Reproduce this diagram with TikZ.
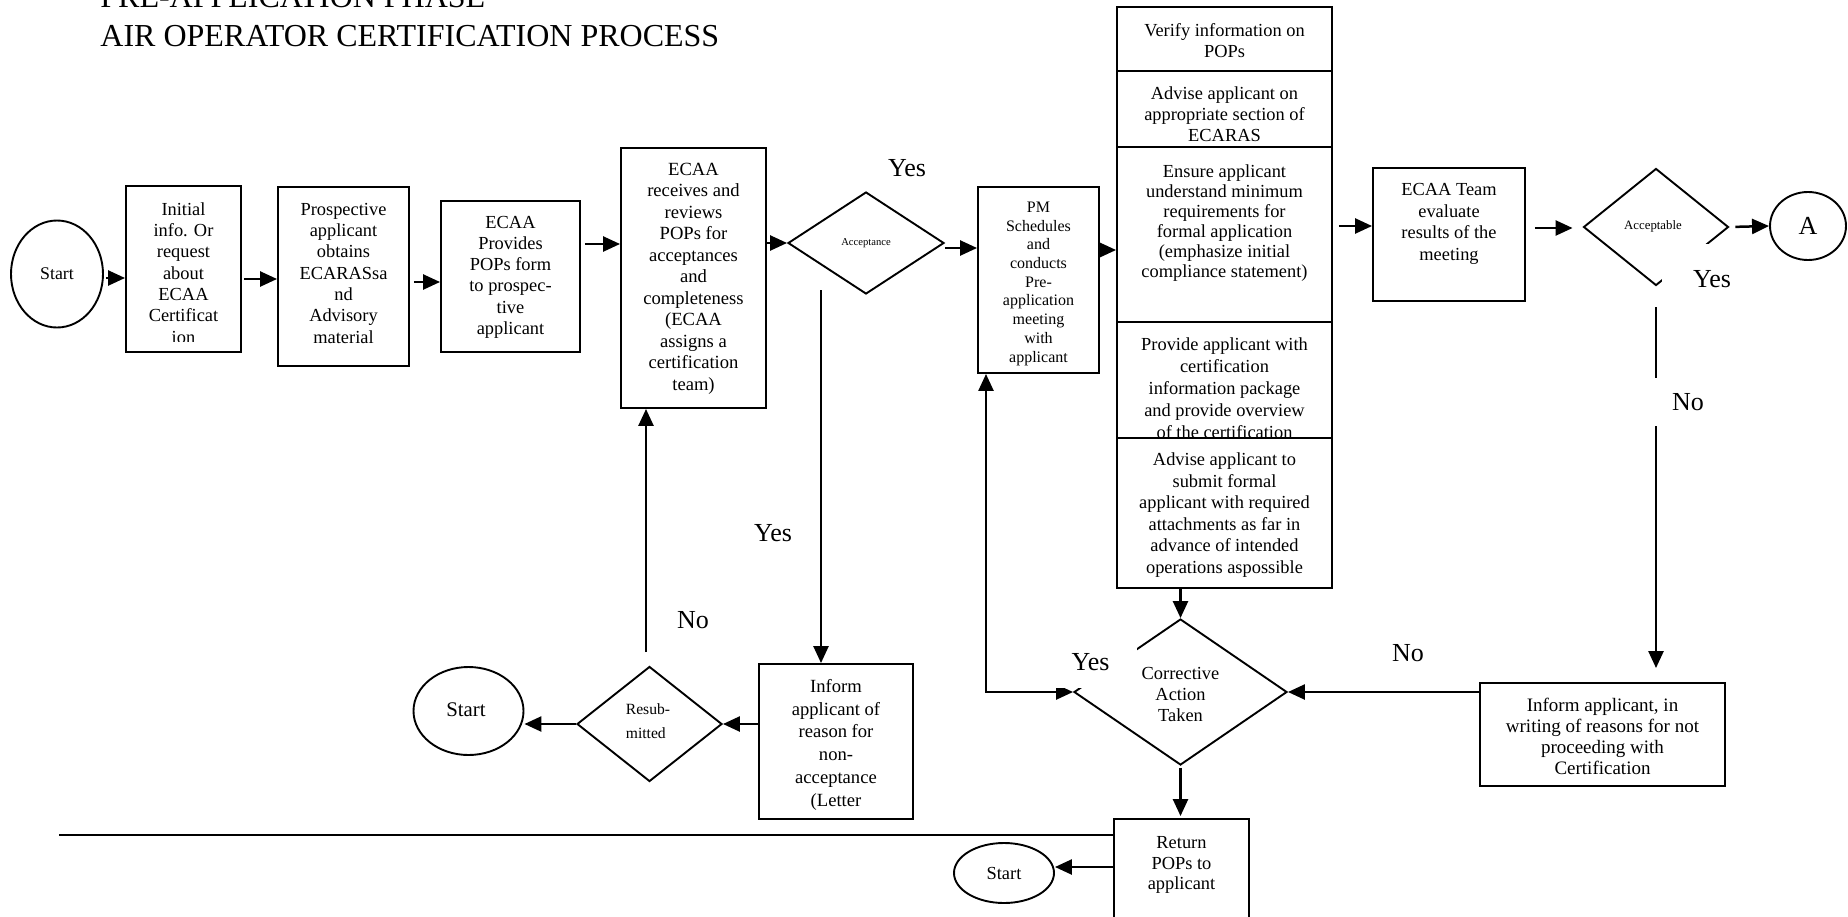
\documentclass[tikz,border=0pt]{standalone}
\usepackage{fontspec}
\setmainfont{Liberation Serif}
\usetikzlibrary{shapes.geometric,arrows.meta,calc}
\newcommand\myfs[2]{\fontsize{#1}{#2}\selectfont}
\begin{document}
\begin{tikzpicture}[x=0.5pt,y=-0.5pt,
  box/.style={draw, line width=0.95pt, inner sep=0pt},
  boxw/.style={box, fill=white},
  dia/.style={diamond, draw, line width=0.95pt, inner sep=0pt, aspect=1},
  ell/.style={ellipse, draw, line width=0.95pt, inner sep=0pt},
  txt/.style={align=center, inner sep=0pt, anchor=north},
  lbl/.style={inner sep=0pt, font=\myfs{13}{15}},
  lblw/.style={lbl, fill=white},
  arr/.style={line width=1.25pt, -{Triangle[length=8.5pt,width=7.5pt]}},
  dbl/.style={line width=1.25pt, {Triangle[length=8.5pt,width=7.5pt]}-{Triangle[length=8.5pt,width=7.5pt]}},
  ln/.style={line width=1.25pt}]
\fill[white] (0,0) rectangle (1848,916);
\useasboundingbox (0,0) rectangle (1848,916);

% title
\node[anchor=base west, inner sep=0pt, font=\myfs{16}{19}] (title1) at (100,7) {PRE-APPLICATION PHASE};
\node[anchor=base west, inner sep=0pt, font=\myfs{16}{19}] (title2) at (100,46) {AIR OPERATOR CERTIFICATION PROCESS};

% top row
\node[ell, minimum width=46pt, minimum height=53.5pt, font=\myfs{8.9}{10}] (start1) at (57,274) {Start};

\node[box, minimum width=57.5pt, minimum height=83pt] (b1) at (183.5,269) {};
\begin{scope}
  \clip (b1.north west) rectangle ($(b1.south east)+(0,-11)$);
  \node[txt, font=\myfs{9.2}{10.65}] (t1) at (183.5,200) {\strut Initial\\info. Or\\request\\about\\ECAA\\Certificat\\ion};
\end{scope}

\node[box, minimum width=65.5pt, minimum height=89.5pt] (b2) at (343.5,276.5) {};
\node[txt, font=\myfs{9.2}{10.65}] (t2) at (343.5,200) {\strut Prospective\\applicant\\obtains\\ECARASsa\\nd\\Advisory\\material};

\node[box, minimum width=69.5pt, minimum height=75.5pt] (b3) at (510.5,276.5) {};
\node[txt, font=\myfs{9.2}{10.6}] (t3) at (510.5,213) {\strut ECAA\\Provides\\POPs form\\to prospec-\\tive\\applicant};

\node[box, minimum width=72.5pt, minimum height=130pt] (b4) at (693.5,278) {};
\node[txt, font=\myfs{9.3}{10.75}] (t4) at (693.5,160) {\strut ECAA\\receives and\\reviews\\POPs for\\acceptances\\and\\completeness\\(ECAA\\assigns a\\certification\\team)};

\node[dia, minimum width=78pt, minimum height=51pt, font=\myfs{5.3}{6}] (acc) at (866,243) {Acceptance};

\node[box, minimum width=60.5pt, minimum height=93pt] (b5) at (1038.5,280) {};
\node[txt, font=\myfs{8}{9.35}] (t5) at (1038.5,199) {\strut PM\\Schedules\\and\\conducts\\Pre-\\application\\meeting\\with\\applicant};

% stack
\node[box, minimum width=107.5pt, minimum height=32pt] (s1) at (1224.5,39) {};
\node[txt, font=\myfs{9.2}{10.5}] (ts1) at (1224.5,21) {\strut Verify information on\\POPs};
\node[box, minimum width=107.5pt, minimum height=38pt] (s2) at (1224.5,109) {};
\node[txt, font=\myfs{9.2}{10.3}] (ts2) at (1224.5,85) {\strut Advise applicant on\\appropriate section of\\ECARAS};
\node[box, minimum width=107.5pt, minimum height=87.5pt] (s3) at (1224.5,234.5) {};
\node[txt, font=\myfs{9.2}{10}] (ts3) at (1224.5,163.5) {\strut Ensure applicant\\understand minimum\\requirements for\\formal application\\(emphasize initial\\compliance statement)};
\node[box, minimum width=107.5pt, minimum height=58pt] (s4) at (1224.5,380) {};
\node[txt, font=\myfs{9.2}{11}] (ts4) at (1224.5,334.3) {\strut Provide applicant with\\certification\\information package\\and provide overview\\of the certification};
\node[boxw, minimum width=107.5pt, minimum height=75pt] (s5) at (1224.5,513) {};
\node[txt, font=\myfs{9.2}{10.8}] (ts5) at (1224.5,450) {\strut Advise applicant to\\submit formal\\applicant with required\\attachments as far in\\advance of intended\\operations aspossible};

\node[box, minimum width=76pt, minimum height=66.5pt] (team) at (1449,234.5) {};
\node[txt, font=\myfs{9.2}{10.85}] (tteam) at (1449,180) {\strut ECAA Team\\evaluate\\results of the\\meeting};

\node[dia, minimum width=72.5pt, minimum height=58.5pt] (ok) at (1656,227) {};
\node[inner sep=0pt, font=\myfs{6.4}{7}] (okt) at (1653,226) {Acceptable};
\node[ell, minimum width=38pt, minimum height=34pt, font=\myfs{13}{15}] (A) at (1808,226) {A};

% lower part
\node[box, minimum width=122.5pt, minimum height=51.5pt] (inf2) at (1602.5,734.5) {};
\node[txt, font=\myfs{9.5}{10.5}] (tinf2) at (1602.5,696) {\strut Inform applicant, in\\writing of reasons for not\\proceeding with\\Certification};

\node[dia, minimum width=106.5pt, minimum height=73pt] (corr) at (1180.5,692) {};
\node[align=center, inner sep=0pt, font=\myfs{9.2}{10.5}] (ctext) at (1180.5,694.5) {Corrective\\Action\\Taken};

\node[box, minimum width=67.5pt, minimum height=60.5pt] (ret) at (1181.5,879.5) {};
\node[txt, font=\myfs{9.2}{10.35}] (tret) at (1181.5,833.5) {\strut Return\\POPs to\\applicant};
\node[ell, minimum width=50pt, minimum height=30pt, font=\myfs{9.2}{10}] (start3) at (1004,873) {Start};

\node[box, minimum width=77pt, minimum height=77.5pt] (inf1) at (836,741.5) {};
\node[txt, font=\myfs{9.3}{11.4}] (tinf1) at (836,676) {\strut Inform\\applicant of\\reason for\\non-\\acceptance\\(Letter};

\node[dia, minimum width=72.5pt, minimum height=57.5pt] (resub) at (649.5,724) {};
\node[align=left, inner sep=0pt, font=\myfs{7.8}{11.8}] (rtext) at (648,721) {Resub-\\mitted};

\node[ell, minimum width=55pt, minimum height=44pt] (start2) at (468.5,711) {};
\node[inner sep=0pt, font=\myfs{10.4}{12}] (start2t) at (466,710) {Start};

% connectors
\draw[arr, shorten <=1pt] (start1.east |- 0,278) -- (b1.west |- 0,278);
\draw[arr, shorten <=1pt] (b1.east |- 0,279) -- (b2.west |- 0,279);
\draw[arr, shorten <=2pt] (b2.east |- 0,282) -- (b3.west |- 0,282);
\draw[arr, shorten <=2pt] (b3.east |- 0,244) -- (b4.west |- 0,244);
\draw[arr] (b4.east |- acc.west) -- (acc.west);
\draw[arr] (acc.east |- 0,248) -- (b5.west |- 0,248);
\draw[arr] (b5.east |- 0,250) -- (s3.west |- 0,250);
\draw[arr, shorten <=3pt] (s3.east |- 0,226) -- (team.west |- 0,226);
\draw[arr, shorten <=4.5pt, shorten >=5pt] (team.east |- 0,228) -- (ok.west |- 0,228);
\draw[arr, shorten <=3pt] (ok.east) -- (A.west);
\draw[arr, shorten <=10.5pt, shorten >=7pt] (ok.south) -- (ok.south |- inf2.north);
\draw[arr] (inf2.west |- corr.east) -- (corr.east);
\draw[arr] (s5.south -| corr.north) -- (corr.north);
\draw[arr, shorten <=1pt, shorten >=1pt] (corr.south) -- (corr.south |- ret.north);
\draw[arr] (ret.west |- 0,867) -- (start3.east |- 0,867);
\coordinate (hl) at (59,835);
\draw[ln] (hl) -- (hl -| ret.west);
\coordinate (yp) at (986,692);
\draw[dbl] (b5.south -| yp) -- (yp) -- (corr.west);
\coordinate (ya) at (821,290);
\draw[arr] (ya) -- (ya |- inf1.north);
\draw[arr] (inf1.west |- resub.east) -- (resub.east);
\draw[arr] (resub.west) -- (resub.west -| start2.east);
\coordinate (yr) at (646,652);
\draw[arr] (yr) -- (yr |- b4.south);

% labels
\node[lbl] (yes1) at (907,168) {Yes};
\node[lbl] (yes2) at (773,533) {Yes};
\node[lbl] (no1) at (693,620) {No};
\node[lblw, minimum width=46.5pt, minimum height=26pt] (yes3) at (1090.5,662) {Yes};
\node[lbl] (no2) at (1408,653) {No};
\node[lblw, minimum width=50pt, minimum height=35pt] (yes4) at (1712,279) {Yes};
\node[lblw, minimum width=36pt, minimum height=24pt] (no3) at (1688,402) {No};
\end{tikzpicture}
\end{document}
